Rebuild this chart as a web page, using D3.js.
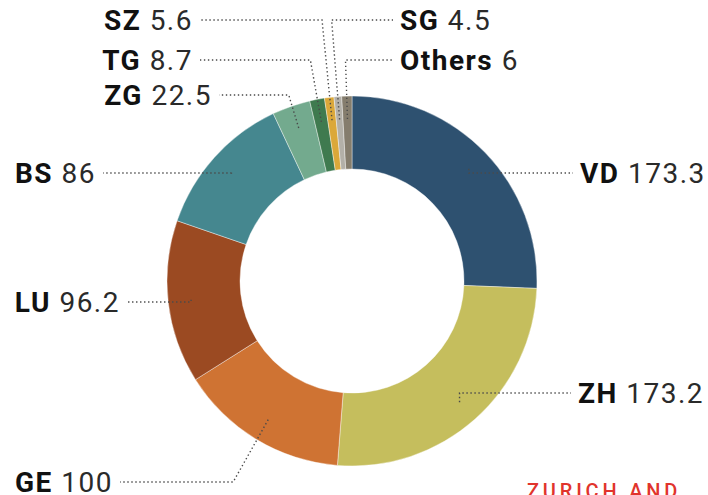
<!DOCTYPE html>
<html><head><meta charset="utf-8">
<script src="https://cdn.jsdelivr.net/npm/d3@7"></script>
<style>
html,body{margin:0;padding:0;background:#fff;}
svg{display:block;}
</style></head>
<body>
<svg id="chart" width="708" height="495"></svg>
<script>
const cantons = ["VD","ZH","GE","LU","BS","ZG","TG","SZ","SG","Others"];
const values  = [173.3,173.2,100,96.2,86,22.5,8.7,5.6,4.5,6];
const valueLabels = ["173.3","173.2","100","96.2","86","22.5","8.7","5.6","4.5","6"];
const colors = ["#2e5170","#c5be5d","#cf7333","#9b4a22","#45878f","#73aa8e","#3f7a4f","#dba83a","#b3b0a8","#857d6d"];

// label layout: side, text x (start for right side, end for left side), label y, elbow x offset
const labelSide = ["right","right","left","left","left","left","left","left","right","right"];
const labelX    = [580,578,113,120,96,212,193,193,400,400];
const labelY    = [173,393,482,302,173,95,60,20,20,60];
const elbowDx   = [0,0,-35,0,0,-10,-11,-10,-8,-2];

const W = 708, H = 495;
const cx = 352, cy = 281, R = 185, r0 = 112, rAnchor = 162;
const svg = d3.select("#chart");

const pie = d3.pie().sort(null).value(d => d.v);
const data = cantons.map((c,i) => ({c, v: values[i], i}));
const arcs = pie(data);
const arc = d3.arc().innerRadius(r0).outerRadius(R);

const g = svg.append("g").attr("transform", `translate(${cx},${cy})`);
g.selectAll("path").data(arcs).join("path")
  .attr("d", arc)
  .attr("fill", d => colors[d.data.i])
  .attr("stroke", "#fff").attr("stroke-width", 0.4);

const font = "Roboto, 'DejaVu Sans', sans-serif";
const fs = 28;

arcs.forEach(a => {
  const i = a.data.i;
  const mid = (a.startAngle + a.endAngle) / 2;
  const ax = cx + rAnchor * Math.sin(mid);
  const ay = cy - rAnchor * Math.cos(mid);
  const ex = ax + elbowDx[i];
  const ey = labelY[i];
  const lx = labelSide[i] === "right" ? labelX[i] - 7 : labelX[i] + 7;
  svg.append("path")
    .attr("d", d3.line()([[ax, ay], [ex, ey], [lx, ey]]))
    .attr("fill", "none")
    .attr("stroke", "#4a4a4a")
    .attr("stroke-width", 1.4)
    .attr("stroke-dasharray", "1.4,2.6");

  const t = svg.append("text")
    .attr("x", labelX[i]).attr("y", labelY[i])
    .attr("dy", "0.36em")
    .attr("text-anchor", labelSide[i] === "right" ? "start" : "end")
    .attr("font-family", font).attr("font-size", fs)
    .attr("letter-spacing", 1.5)
    .attr("fill", "#111");
  t.append("tspan").attr("font-weight", 700).text(cantons[i]);
  t.append("tspan").attr("font-weight", 400).attr("fill", "#2a2a2a").text(" " + valueLabels[i]);
});

svg.append("text")
  .attr("x", 527).attr("y", 498)
  .attr("font-family", font).attr("font-size", 20).attr("font-weight", 500)
  .attr("letter-spacing", 3.8)
  .attr("fill", "#e1342c")
  .text("ZURICH AND");
</script>
</body></html>
